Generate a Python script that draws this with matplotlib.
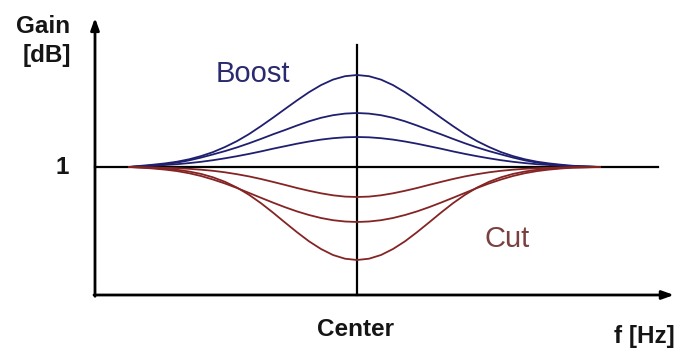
import numpy as np
import matplotlib
matplotlib.use("Agg")
import matplotlib.pyplot as plt

# ---- data ----
# frequency offsets from the centre frequency (arbitrary units, one side of the bell)
freq_offsets = [0, 12, 24, 36, 48, 60, 72, 84, 96, 108, 120, 132, 144, 156, 168,
                180, 192, 204, 216, 228]
right_end = 243   # last point on the right-hand side reaches a little further

# gain deviation from 1, in 1/128 gain units
boost1 = [92, 90.8, 87.4, 81.9, 74.8, 66.6, 58, 49.3, 40.9, 32.9, 25.9, 20, 14.9,
          10.9, 7.7, 5.3, 3.6, 2.3, 1.2, 0]
boost2 = [54, 53.4, 51.8, 49.2, 45.7, 41.5, 37, 32.7, 28.1, 23.7, 19.6, 15.9, 12.6,
          9.4, 6.6, 4.4, 2.8, 1.6, 0.7, 0]
boost3 = [30, 29.7, 28.8, 27.4, 25.5, 23.3, 20.8, 18.3, 15.6, 13.1, 10.8, 8.7, 6.8,
          5.2, 3.9, 2.8, 2, 1.3, 0.7, 0]
cut1 = [30, 29.6, 28.3, 26.3, 23.8, 21, 17.9, 14.9, 12, 9.4, 7.2, 5.3, 3.8, 2.7,
        1.8, 1.2, 0.8, 0.5, 0.3, 0]
cut2 = [55, 54.5, 53.2, 51, 48, 44.4, 40.2, 35.6, 30.8, 25.9, 21, 16.5, 12.5,
        9, 6.2, 4.1, 2.6, 1.5, 0.6, 0]
cut3 = [93, 91.7, 88, 82, 74.3, 65.2, 55.5, 45.6, 36.2, 27.8, 20.6, 14.8, 10.3,
        6.9, 4.5, 2.8, 1.7, 1, 0.4, 0]

base_gain = 1.0
y_tick_label = "1"

def full_curve(d, sign):
    f = np.asarray(freq_offsets, float)
    d = np.asarray(d, float)
    fr = f.copy()
    fr[-1] = right_end
    x = np.concatenate([-f[::-1], fr[1:]])
    y = np.concatenate([d[::-1], d[1:]])
    return x, base_gain + sign * y / 128.0

fig = plt.figure(figsize=(6.77, 3.51), dpi=100)
ax = fig.add_axes([0, 0, 1, 1])
ax.set_xlim(-357, 320)
ax.set_ylim(-0.4375, 2.3047)
ax.axis("off")

boost_col = "#1f1f70"
cut_col = "#842424"

# reference lines
ax.plot([-262, 301], [base_gain, base_gain], color="black", lw=1.6, zorder=2)
ax.plot([0, 0], [0, 1.953], color="black", lw=1.6, zorder=2)

for d in (boost1, boost2, boost3):
    x, y = full_curve(d, +1)
    ax.plot(x, y, color=boost_col, lw=1.3, zorder=3, solid_joinstyle="round")
for d in (cut1, cut2, cut3):
    x, y = full_curve(d, -1)
    ax.plot(x, y, color=cut_col, lw=1.3, zorder=3, solid_joinstyle="round")

# axes with arrows
arrow = dict(arrowstyle="-|>,head_length=0.7,head_width=0.25", color="black", lw=2.0,
             shrinkA=0, shrinkB=0)
ax.annotate("", xy=(-262, 2.165), xytext=(-262, -0.01), arrowprops=arrow)
ax.annotate("", xy=(317, 0), xytext=(-263, 0), arrowprops=arrow)

bold = dict(family="Liberation Sans", fontweight="bold", color="#151515", fontsize=17.5)
ax.text(-313.5, 2.047, "Gain", ha="center", va="baseline", **bold)
ax.text(-310.5, 1.875, "[dB]", ha="center", va="center", **bold)
ax.text(-295, base_gain, y_tick_label, ha="center", va="center", **bold)
ax.text(-1, -0.32, "Center", ha="center", va="baseline", **bold)
ax.text(318, -0.375, "f [Hz]", ha="right", va="baseline", **bold)
ax.text(-104.5, 1.664, "Boost", ha="center", va="baseline", fontsize=21,
        family="Liberation Sans", color="#2a2a6e")
ax.text(150.5, 0.375, "Cut", ha="center", va="baseline", fontsize=21,
        family="Liberation Sans", color="#7a4040")

fig.savefig("out.png", dpi=100)
